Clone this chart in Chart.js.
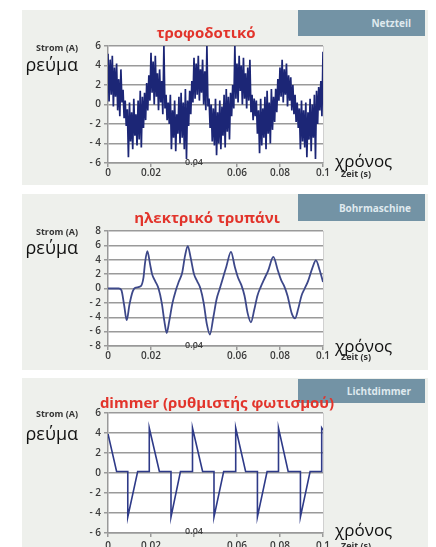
<!DOCTYPE html>
<html>
<head>
<meta charset="utf-8">
<script src="https://cdn.jsdelivr.net/npm/chart.js@4.4.1/dist/chart.umd.min.js"></script>
<style>
  body { margin: 0; width: 436px; height: 547px; background: #fff; position: relative; overflow: hidden; font-family: "Open Sans", sans-serif; }
  .panel { position: absolute; left: 22px; width: 406px; background: #eef0ec; }
  .box { position: absolute; left: 298px; width: 127px; background: #7393a5; color: #dfe9ee; font-size: 10px; font-weight: 700; text-align: right; box-sizing: border-box; padding-right: 14px; display: flex; align-items: center; justify-content: flex-end; }
  .t { position: absolute; white-space: nowrap; line-height: 1; transform: translateY(-50%); }
  .title { color: #e2342b; font-weight: 700; font-size: 15px; transform: translate(-50%, -50%); }
  .strom { right: 358px; font-size: 9px; font-weight: 700; color: #333; }
  .rev { right: 358px; font-size: 18px; color: #111; }
  .xr { left: 335px; font-size: 17px; color: #111; }
  .zeit { left: 341px; font-size: 9px; font-weight: 700; color: #333; }
  .wrap { position: absolute; left: 80px; width: 270px; }
</style>
</head>
<body>
<div class="panel" style="top:10px;height:175px"></div>
<div class="panel" style="top:194px;height:176px"></div>
<div class="panel" style="top:378px;height:169px"></div>

<div class="box" style="top:10px;height:26px">Netzteil</div>
<div class="box" style="top:194px;height:27px">Bohrmaschine</div>
<div class="box" style="top:379px;height:24px">Lichtdimmer</div>

<div class="wrap" style="top:36px;height:152px"><canvas id="netz" width="270" height="152"></canvas></div>
<div class="wrap" style="top:221px;height:150px"><canvas id="drill" width="270" height="150"></canvas></div>
<div class="wrap" style="top:403px;height:144px"><canvas id="dimmer" width="270" height="144"></canvas></div>

<div class="t title" style="left:206px;top:32px">τροφοδοτικό</div>
<div class="t strom" style="top:47px">Strom (A)</div>
<div class="t rev" style="top:64px">ρεύμα</div>
<div class="t xr" style="top:160px">χρόνος</div>
<div class="t zeit" style="top:173px">Zeit (s)</div>

<div class="t title" style="left:207px;top:217px">ηλεκτρικό τρυπάνι</div>
<div class="t strom" style="top:231px">Strom (A)</div>
<div class="t rev" style="top:247px">ρεύμα</div>
<div class="t xr" style="top:345px">χρόνος</div>
<div class="t zeit" style="top:356px">Zeit (s)</div>

<div class="t title" style="left:217px;top:402px">dimmer (ρυθμιστής φωτισμού)</div>
<div class="t strom" style="top:413px">Strom (A)</div>
<div class="t rev" style="top:433px">ρεύμα</div>
<div class="t xr" style="top:529px">χρόνος</div>
<div class="t zeit" style="top:545px">Zeit (s)</div>

<script>
// time axis ticks (s)
var timeTicks = [0, 0.02, 0.04, 0.06, 0.08, 0.1];

// power supply: sampled every 0.5 ms from 0 to 0.1 s
var netzStep = 0.0005;
var netzCurrent = [
  5.2, 0.3, 4.6, 1.0, 5.0, -0.2, 3.8, 0.8, 4.2, -0.6,
  2.6, -1.2, 3.6, 0.2, 1.5, -1.4, 0.4, -2.2, -0.5, -5.4,
  0.2, -3.8, -0.8, -4.6, 0.6, -3.2, -1.0, -4.2, 0.4, -3.6,
  1.4, -4.4, 0.8, -2.4, 1.2, -1.6, 2.2, -0.6, 3.0, 0.4,
  5.3, 1.2, 4.4, 0.0, 5.0, 0.8, 3.2, -0.6, 3.6, 0.2,
  2.4, -1.0, 6.0, -0.4, 1.0, -1.6, 0.2, -2.0, 1.0, -4.6,
  -0.6, -3.4, 0.4, -4.8, -1.0, -3.0, 0.8, -4.0, 1.2, -3.4,
  0.2, -4.6, 1.6, -5.6, 0.4, -2.2, 1.4, -1.0, 2.4, 0.2,
  4.8, 0.6, 4.2, 1.0, 5.0, 0.4, 3.6, 1.2, 4.6, 0.0,
  3.4, -0.6, 6.0, -0.2, 0.6, -2.4, 0.0, -3.8, -0.4, -4.2,
  0.6, -5.2, -0.8, -4.0, 0.4, -4.6, -0.2, -3.2, 1.0, -4.4,
  1.6, -2.8, 0.8, -3.6, 1.2, -1.2, 2.0, -0.4, 6.0, 0.6,
  4.2, 0.2, 5.0, 1.4, 4.0, 0.0, 4.8, 0.6, 3.2, -0.4,
  3.8, 0.4, 4.6, -0.8, 1.0, -1.6, 0.6, -1.2, 0.4, -3.0,
  -0.6, -5.0, 0.6, -4.2, -0.4, -3.4, 0.8, -4.6, 1.4, -3.0,
  0.2, -4.0, 1.6, -2.6, 0.8, -1.8, 1.6, -0.8, 2.6, 0.4,
  3.8, 0.8, 4.6, 0.2, 3.6, 1.0, 4.2, -0.2, 3.0, 0.4,
  2.8, -0.6, 2.0, -1.0, 1.0, -1.8, 0.2, -2.4, -0.4, -4.6,
  0.4, -3.8, -0.6, -4.4, 0.2, -5.4, -0.8, -3.6, 0.6, -4.8,
  0.0, -3.4, 1.0, -5.6, 1.4, -2.0, 1.8, -0.6, 2.4, -1.2,
  5.4
];

// drill
var drillTime = [0, 0.005, 0.0062, 0.0075, 0.0087, 0.010, 0.0115, 0.0126, 0.0152, 0.0165,
  0.0172, 0.0183, 0.0195, 0.0205, 0.022, 0.0235, 0.025, 0.0262, 0.0273, 0.0285,
  0.030, 0.0315, 0.033, 0.0345, 0.0358, 0.0371, 0.0385, 0.040, 0.0415, 0.043,
  0.0445, 0.046, 0.0474, 0.049, 0.0505, 0.052, 0.0535, 0.055, 0.0572, 0.059,
  0.0605, 0.062, 0.0635, 0.065, 0.0665, 0.068, 0.0695, 0.071, 0.0725, 0.0745,
  0.0769, 0.079, 0.0805, 0.082, 0.0835, 0.0855, 0.087, 0.0885, 0.090, 0.0915,
  0.093, 0.095, 0.0967, 0.0985, 0.1];
var drillCurrent = [0, 0, -0.2, -2.3, -4.4, -2.2, -0.4, 0.1, 0.3, 1.5,
  3.5, 5.2, 3.5, 2.0, 1.0, 0.0, -2.0, -4.5, -6.2, -4.5,
  -2.0, -0.3, 1.0, 2.2, 4.5, 5.9, 4.2, 2.0, 1.0, 0.0,
  -2.0, -5.0, -6.4, -4.0, -1.5, 0.0, 1.5, 3.0, 5.1, 3.0,
  1.5, 0.5, -1.0, -3.5, -4.7, -3.0, -1.0, 0.2, 1.2, 2.5,
  4.4, 2.5, 1.2, 0.3, -1.0, -3.5, -4.15, -2.8, -1.0, 0.0,
  1.0, 2.8, 3.9, 2.5, 0.9];

// light dimmer
var dimmerTime = [0, 0.004, 0.0092, 0.0092, 0.0138, 0.0192, 0.0192, 0.0239, 0.0293, 0.0293,
  0.0337, 0.0393, 0.0393, 0.044, 0.0493, 0.0493, 0.0538, 0.0594, 0.0594, 0.064,
  0.0695, 0.0695, 0.074, 0.0793, 0.0793, 0.0838, 0.0895, 0.0895, 0.094, 0.0994,
  0.0994, 0.1];
var dimmerCurrent = [3.9, 0.15, 0.15, -4.4, 0.15, 0.15, 4.5, 0.15, 0.15, -4.4,
  0.15, 0.15, 4.5, 0.15, 0.15, -4.4, 0.15, 0.15, 4.5, 0.15,
  0.15, -4.4, 0.15, 0.15, 4.5, 0.15, 0.15, -4.4, 0.15, 0.15,
  4.5, 4.3];

var netzTime = netzCurrent.map(function (v, i) { return i * netzStep; });

var plotBg = {
  id: "plotBg",
  beforeDraw: function (chart) {
    // let the raised 0.04 label show above the axis box
    chart.scales.x._computeLabelArea = function () { return undefined; };
    var a = chart.chartArea, c = chart.ctx;
    c.save();
    c.fillStyle = "#fff";
    c.fillRect(a.left, a.top, a.right - a.left, a.bottom - a.top);
    c.strokeStyle = "#d0d0d0";
    c.lineWidth = 1;
    c.beginPath();
    c.moveTo(a.right + 0.5, a.top);
    c.lineTo(a.right + 0.5, a.bottom);
    c.stroke();
    c.restore();
  }
};

function isRaised(v) { return Math.abs(v - timeTicks[2]) < 1e-9; }

function makeChart(id, xs, ys, yMin, yMax, o) {
  var points = xs.map(function (x, i) { return { x: x, y: ys[i] }; });
  return new Chart(document.getElementById(id), {
    type: "line",
    data: {
      datasets: [{
        data: points,
        borderColor: o.color,
        borderWidth: o.width,
        pointRadius: 0,
        tension: o.smooth ? 0.4 : 0,
        cubicInterpolationMode: o.smooth ? "monotone" : "default"
      }]
    },
    options: {
      responsive: false,
      animation: false,
      devicePixelRatio: 1,
      layout: { padding: { top: 10, right: 27, left: 0, bottom: 0 } },
      plugins: { legend: { display: false }, tooltip: { enabled: false } },
      scales: {
        x: {
          type: "linear",
          z: 1,
          min: timeTicks[0],
          max: timeTicks[timeTicks.length - 1],
          afterFit: function (s) { s.height = o.xh; },
          afterBuildTicks: function (s) { s.ticks = timeTicks.map(function (v) { return { value: v }; }); },
          border: { color: "#999", width: 1.5 },
          grid: { drawOnChartArea: false, tickLength: 4, color: "#999", lineWidth: 1.5 },
          ticks: {
            maxRotation: 0, minRotation: 0, autoSkip: false,
            padding: o.pad, color: "#3a3a3a",
            font: function (ctx) {
              var small = ctx.tick && isRaised(ctx.tick.value);
              return { family: "Open Sans", weight: "600", size: small ? 9 : 10, lineHeight: o.lh };
            },
            callback: function (v) {
              var s = String(+v.toFixed(2));
              return isRaised(v) ? [s, ""] : ["", s];
            }
          }
        },
        y: {
          min: yMin, max: yMax,
          afterFit: function (s) { s.width = 28; },
          border: { color: "#999", width: 1.5 },
          grid: { color: "#9a9a9a", lineWidth: 1.5, tickLength: 4 },
          ticks: {
            stepSize: 2, padding: 3, color: "#3a3a3a", autoSkip: false,
            font: { family: "Open Sans", weight: "600", size: 10 },
            callback: function (v) { return v < 0 ? "- " + (-v) : String(v); }
          }
        }
      }
    },
    plugins: [plotBg]
  });
}

makeChart("netz", netzTime, netzCurrent, -6, 6, { color: "#1c2676", width: 1.7, xh: 25, pad: -10.5, lh: "11px" });
makeChart("drill", drillTime, drillCurrent, -8, 8, { color: "#3d4889", width: 1.8, smooth: true, xh: 25, pad: -10.5, lh: "11px" });
makeChart("dimmer", dimmerTime, dimmerCurrent, -6, 6, { color: "#2e3a88", width: 1.6, xh: 14, pad: -12.3, lh: "14px" });
</script>
</body>
</html>
